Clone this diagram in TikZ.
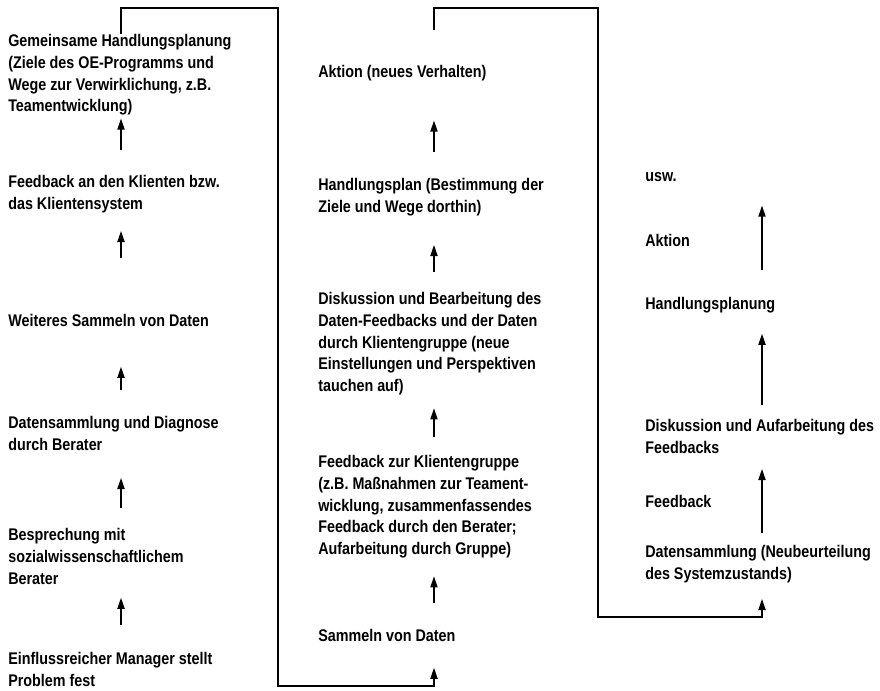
\documentclass[tikz,border=0pt]{standalone}
\usepackage{fontspec}
\setmainfont{Liberation Sans}[FakeStretch=0.85]
\usetikzlibrary{arrows.meta}

\tikzset{
  schritt/.style={anchor=north west, align=left, inner sep=0pt, text depth=3pt,
    font=\fontsize{12}{15.5}\selectfont\bfseries},
  pfeil/.style={draw, line width=1.3pt, -{Triangle[length=8pt,width=5pt]}}
}

\begin{document}
\begin{tikzpicture}[x=0.025cm,y=-0.025cm]
  \useasboundingbox (0,0) rectangle (880,690);

  % x-Lagen der Pfeile
  \coordinate (xa) at (121,0);
  \coordinate (xb) at (434,0);
  \coordinate (xc) at (762,0);

  % Ecken der Rueckfuehrungen
  \coordinate (ecke1) at (278,8);
  \coordinate (ecke2) at (278,686);
  \coordinate (ecke3) at (598,8);
  \coordinate (ecke4) at (598,617);

  \begin{scope}[every node/.style={schritt}]
    % erste Spalte
    \node (a1) at (8,34)  {Gemeinsame Handlungsplanung\\(Ziele des OE-Programms und\\Wege zur Verwirklichung, z.B.\\Teamentwicklung)};
    \node (a2) at (8,175) {Feedback an den Klienten bzw.\\das Klientensystem};
    \node (a3) at (8,314) {Weiteres Sammeln von Daten};
    \node (a4) at (8,416) {Datensammlung und Diagnose\\durch Berater};
    \node (a5) at (8,528) {Besprechung mit\\sozialwissenschaftlichem\\Berater};
    \node (a6) at (8,652) {Einflussreicher Manager stellt\\Problem fest};

    % zweite Spalte
    \node (b1) at (318,65)  {Aktion (neues Verhalten)};
    \node (b2) at (318,178) {Handlungsplan (Bestimmung der\\Ziele und Wege dorthin)};
    \node (b3) at (318,292) {Diskussion und Bearbeitung des\\Daten-Feedbacks und der Daten\\durch Klientengruppe (neue\\Einstellungen und Perspektiven\\tauchen auf)};
    \node (b4) at (318,455) {Feedback zur Klientengruppe\\(z.B. Maßnahmen zur Teament-\\wicklung, zusammenfassendes\\Feedback durch den Berater;\\Aufarbeitung durch Gruppe)};
    \node (b5) at (318,629) {Sammeln von Daten};

    % dritte Spalte
    \node (c1) at (645,172) {usw.};
    \node (c2) at (645,234) {Aktion};
    \node (c3) at (645,297) {Handlungsplanung};
    \node (c4) at (645,419) {Diskussion und Aufarbeitung des\\Feedbacks};
    \node (c5) at (645,495) {Feedback};
    \node (c6) at (645,545) {Datensammlung (Neubeurteilung\\des Systemzustands)};
  \end{scope}

  \begin{scope}[every edge/.style={pfeil}]
    \path (a2.north -| xa) edge[shorten <=0.625cm, shorten >=0.05cm]  (a1.south -| xa);
    \path (a3.north -| xa) edge[shorten <=1.4cm,   shorten >=0.425cm] (a2.south -| xa);
    \path (a4.north -| xa) edge[shorten <=0.65cm,  shorten >=0.89cm]  (a3.south -| xa);
    \path (a5.north -| xa) edge[shorten <=0.5cm,   shorten >=0.575cm] (a4.south -| xa);
    \path (a6.north -| xa) edge[shorten <=0.675cm, shorten >=0.225cm] (a5.south -| xa);

    \path (b2.north -| xb) edge[shorten <=0.65cm,  shorten >=0.96cm]  (b1.south -| xb);
    \path (b3.north -| xb) edge[shorten <=0.5cm,   shorten >=0.7cm]   (b2.south -| xb);
    \path (b4.north -| xb) edge[shorten <=0.45cm,  shorten >=0.3cm]   (b3.south -| xb);
    \path (b5.north -| xb) edge[shorten <=0.65cm,  shorten >=0.425cm] (b4.south -| xb);

    \path (c3.north -| xc) edge[shorten <=0.675cm, shorten >=0.49cm]  (c1.south -| xc);
    \path (c4.north -| xc) edge[shorten <=0.35cm,  shorten >=0.49cm]  (c3.south -| xc);
    \path (c6.north -| xc) edge[shorten <=0.3cm,   shorten >=0.275cm] (c4.south -| xc);
  \end{scope}

  % Rueckfuehrungen
  \draw[pfeil, shorten >=0.54cm] (a1.north -| xa) |- (ecke1) -- (ecke2) -| (b5.south -| xb);
  \draw[pfeil, shorten <=0.875cm, shorten >=0.375cm] (b1.north -| xb) |- (ecke3) -- (ecke4) -| (c6.south -| xc);

\end{tikzpicture}
\end{document}
